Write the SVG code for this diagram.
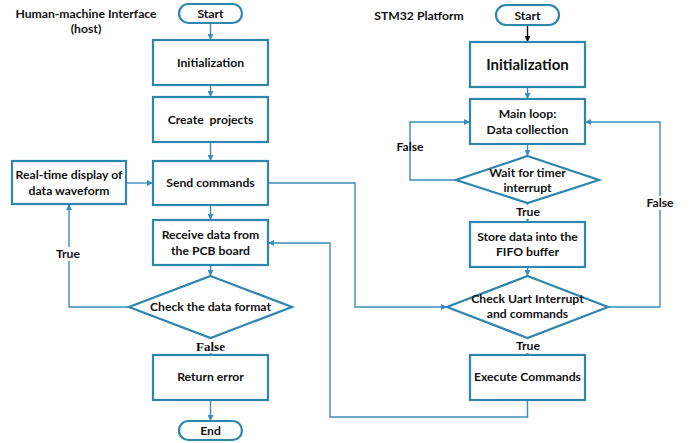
<svg xmlns="http://www.w3.org/2000/svg" width="699" height="443" viewBox="0 0 699 443">
<style>
.box{fill:#fff;stroke:#2e85ae;stroke-width:2.2}
.ln{fill:none;stroke:#3a8cbc;stroke-width:1.4}
.t{font-family:Lato,"Open Sans","Liberation Sans",sans-serif;font-weight:bold;font-size:12.2px;fill:#111;text-anchor:middle;white-space:pre}
.big{font-size:15px}
.serif{font-family:"Liberation Serif",serif;font-weight:bold;font-size:13px}
</style>
<defs>
<marker id="a" viewBox="0 0 10 10" refX="10" refY="5" markerWidth="6" markerHeight="6" markerUnits="userSpaceOnUse" orient="auto"><path d="M0,0L10,5L0,10z" fill="#3a8cbc"/></marker>
<marker id="ab" viewBox="0 0 10 10" refX="10" refY="5" markerWidth="6" markerHeight="6" markerUnits="userSpaceOnUse" orient="auto"><path d="M0,0L10,5L0,10z" fill="#111"/></marker>
</defs>
<rect width="699" height="443" fill="#fff"/>
<g id="titles">
<text class="t" x="86" y="18">Human-machine Interface</text>
<text class="t" x="86" y="33">(host)</text>
<text class="t" x="419" y="20">STM32 Platform</text>
</g>
<g id="connectors">
<path class="ln" d="M210.5,23V40" marker-end="url(#a)"/>
<path class="ln" d="M210.5,85V97" marker-end="url(#a)"/>
<path class="ln" d="M210.5,142V161" marker-end="url(#a)"/>
<path class="ln" d="M210.5,205V220" marker-end="url(#a)"/>
<path class="ln" d="M210.5,265V276" marker-end="url(#a)"/>
<path class="ln" d="M210.5,338V355" marker-end="url(#a)"/>
<path class="ln" d="M210.5,400V421" marker-end="url(#a)"/>
<path class="ln" d="M126,183H153" marker-end="url(#a)"/>
<path class="ln" d="M129,307H69V204" marker-end="url(#a)"/>
<path class="ln" d="M268,183H355V307H447" marker-end="url(#a)"/>
<path class="ln" d="M527.5,400V417H330V243H268" marker-end="url(#a)"/>
<path class="ln" d="M527.5,25V42" style="stroke:#111" marker-end="url(#ab)"/>
<path class="ln" d="M527.5,87V99" marker-end="url(#a)"/>
<path class="ln" d="M527.5,144V156" marker-end="url(#a)"/>
<path class="ln" d="M456,180H410V122H470" marker-end="url(#a)"/>
<path class="ln" d="M527.5,203V222" marker-end="url(#a)"/>
<path class="ln" d="M527.5,267V276" marker-end="url(#a)"/>
<path class="ln" d="M608,307H660V122H585" marker-end="url(#a)"/>
<path class="ln" d="M527.5,338V355" marker-end="url(#a)"/>
</g>
<g id="labels">
<rect x="194" y="339" width="33" height="14" fill="#fff"/>
<text class="t serif" x="210.5" y="351">False</text>
<rect x="54" y="247" width="28" height="14" fill="#fff"/>
<text class="t" x="68" y="258">True</text>
<text class="t" x="410" y="151">False</text>
<rect x="514" y="205" width="28" height="14" fill="#fff"/>
<text class="t" x="528" y="216">True</text>
<rect x="645" y="196" width="30" height="14" fill="#fff"/>
<text class="t" x="660" y="207">False</text>
<rect x="514" y="339" width="28" height="14" fill="#fff"/>
<text class="t" x="528" y="350">True</text>
</g>
<g id="start-hmi"><rect class="box" x="179" y="4" width="63" height="19" rx="9.5"/><text class="t" x="210.5" y="18">Start</text></g>
<g id="init-hmi"><rect class="box" x="153" y="40" width="115" height="45"/><text class="t" x="210.5" y="67">Initialization</text></g>
<g id="create"><rect class="box" x="153" y="97" width="115" height="45"/><text class="t" x="210.5" y="124">Create  projects</text></g>
<g id="send"><rect class="box" x="153" y="161" width="115" height="44"/><text class="t" x="210.5" y="187">Send commands</text></g>
<g id="display"><rect class="box" x="12" y="161" width="114" height="43"/><text class="t" x="69" y="179">Real-time display of</text><text class="t" x="69" y="195">data waveform</text></g>
<g id="receive"><rect class="box" x="153" y="220" width="115" height="45"/><text class="t" x="210.5" y="239">Receive data from</text><text class="t" x="210.5" y="255">the PCB board</text></g>
<g id="check-format"><path class="box" d="M210.5,276L292,307L210.5,338L129,307Z"/><text class="t" x="210.5" y="311">Check the data format</text></g>
<g id="return-error"><rect class="box" x="153" y="355" width="115" height="45"/><text class="t" x="210.5" y="381">Return error</text></g>
<g id="end"><rect class="box" x="179" y="421" width="63" height="19" rx="9.5"/><text class="t" x="210.5" y="435">End</text></g>
<g id="start-stm"><rect class="box" x="496" y="5" width="63" height="20" rx="10"/><text class="t" x="527.5" y="20">Start</text></g>
<g id="init-stm"><rect class="box" x="470" y="42" width="115" height="45"/><text class="t big" x="527.5" y="70">Initialization</text></g>
<g id="main-loop"><rect class="box" x="470" y="99" width="115" height="45"/><text class="t" x="527.5" y="118">Main loop:</text><text class="t" x="527.5" y="134">Data collection</text></g>
<g id="wait-timer"><path class="box" d="M527.5,156L599,180L527.5,203L456,180Z"/><text class="t" x="527.5" y="177">Wait for timer</text><text class="t" x="527.5" y="192">interrupt</text></g>
<g id="store"><rect class="box" x="470" y="222" width="115" height="45"/><text class="t" x="527.5" y="241">Store data into the</text><text class="t" x="527.5" y="256">FIFO buffer</text></g>
<g id="check-uart"><path class="box" d="M527.5,276L608,307L527.5,338L447,307Z"/><text class="t" x="527.5" y="303">Check Uart Interrupt</text><text class="t" x="527.5" y="318">and commands</text></g>
<g id="execute"><rect class="box" x="470" y="355" width="115" height="45"/><text class="t" x="527.5" y="381">Execute Commands</text></g>
</svg>
